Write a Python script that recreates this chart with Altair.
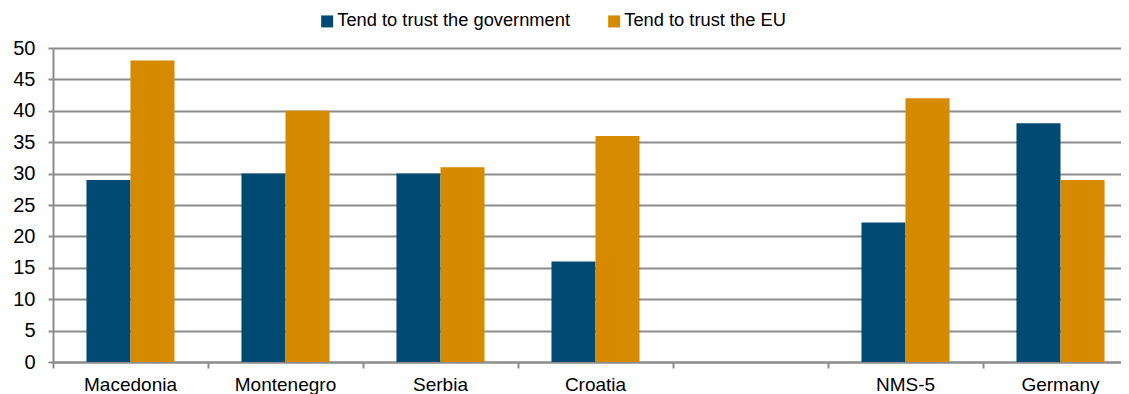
import altair as alt
import pandas as pd

categories = ["Macedonia", "Montenegro", "Serbia", "Croatia", " ", "NMS-5", "Germany"]
series = ["Tend to trust the government", "Tend to trust the EU"]
gov = [29, 30, 30, 16, None, 22.2, 38]
eu = [48, 40, 31, 36, None, 42, 29]
colors = ["#004a73", "#d68a00"]
y_ticks = [0, 5, 10, 15, 20, 25, 30, 35, 40, 45, 50]

rows = []
for c, g, e in zip(categories, gov, eu):
    if g is not None:
        rows.append({"cat": c, "series": series[0], "value": g})
    if e is not None:
        rows.append({"cat": c, "series": series[1], "value": e})
df = pd.DataFrame(rows)

FONT = "Liberation Sans"
GRID = "#8c8c8c"

# the last category band runs past the right edge of the picture, as in the reference
xscale = alt.Scale(domain=categories, paddingInner=0, paddingOuter=0, rangeMin=0, rangeMax=1085)

bars = alt.Chart(df).mark_bar().encode(
    x=alt.X(
        "cat:N",
        scale=xscale,
        title=None,
        axis=alt.Axis(
            orient="bottom", labelAngle=0, ticks=False, domain=False, grid=False,
            labelFont=FONT, labelFontSize=19, labelColor="black",
            labelBaseline="alphabetic", labelPadding=28,
        ),
    ),
    xOffset=alt.XOffset("series:N", scale=alt.Scale(domain=series, paddingInner=0, paddingOuter=0.76)),
    y=alt.Y(
        "value:Q",
        scale=alt.Scale(domain=[0, 50], nice=False),
        title=None,
        axis=alt.Axis(
            values=y_ticks, labelFont=FONT, labelFontSize=20, labelColor="black",
            labelPadding=13, tickSize=5, tickColor=GRID, tickWidth=2,
            domainColor=GRID, domainWidth=2, gridColor=GRID, gridWidth=2,
        ),
    ),
    color=alt.Color(
        "series:N",
        scale=alt.Scale(domain=series, range=colors),
        legend=alt.Legend(
            title=None, orient="none", legendX=265, legendY=-36, direction="horizontal",
            symbolType="square", symbolSize=144, symbolStrokeWidth=0, labelFont=FONT,
            labelFontSize=18.3, labelColor="black", labelOffset=1, columnPadding=34,
            labelLimit=400,
        ),
    ),
)

ticks = alt.Chart(df).mark_point(opacity=0).encode(
    x=alt.X(
        "cat:N",
        scale=xscale,
        title=None,
        axis=alt.Axis(
            orient="bottom", bandPosition=0, labels=False, ticks=True, tickSize=6,
            tickColor=GRID, tickWidth=2, domain=True, domainColor=GRID, domainWidth=2, grid=False,
        ),
    ),
)

chart = (
    alt.layer(bars, ticks)
    .resolve_axis(x="independent")
    .properties(
        width=1068, height=314, autosize=alt.AutoSizeParams(type="none"),
        padding={"left": 45, "top": 40, "right": 0, "bottom": 32},
    )
    .configure_view(stroke=None)
)

chart.save("out.html", embed_options={"renderer": "svg", "actions": False})
